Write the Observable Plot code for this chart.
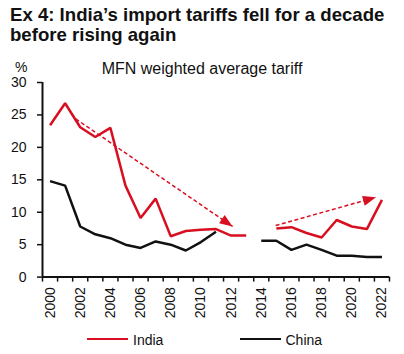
<!DOCTYPE html>
<html><head><meta charset="utf-8">
<script src="https://cdn.jsdelivr.net/npm/d3@7"></script>
<script src="https://cdn.jsdelivr.net/npm/@observablehq/plot@0.6"></script>
<style>
  html,body{margin:0;padding:0;background:#fff;}
  #wrap{position:relative;width:404px;height:354px;overflow:hidden;font-family:"Liberation Sans",Arial,sans-serif;}
  .abs{position:absolute;white-space:nowrap;}
  #chart{position:absolute;left:0;top:0;}
</style>
</head><body>
<div id="wrap">
  <div id="chart"></div>
  <div class="abs" style="left:10px;top:5px;font-weight:bold;font-size:18.6px;line-height:20px;color:#111;">Ex 4: India’s import tariffs fell for a decade<br>before rising again</div>
  <div class="abs" style="left:15px;top:60px;font-size:14px;line-height:14px;color:#111;">%</div>
  <div class="abs" style="left:0;width:404px;text-align:center;top:60.5px;font-size:16px;line-height:16px;color:#111;">MFN weighted average tariff</div>
  <div id="legend"></div>
</div>
<script>
const years = [2000,2001,2002,2003,2004,2005,2006,2007,2008,2009,2010,2011,2012,2013,2014,2015,2016,2017,2018,2019,2020,2021,2022];
const india = [23.4,26.8,23.1,21.6,23.0,14.1,9.1,12.1,6.3,7.1,7.3,7.4,6.4,6.4,null,7.5,7.7,6.8,6.1,8.8,7.8,7.4,11.9];
const china = [14.8,14.1,7.8,6.6,6.0,5.0,4.5,5.5,5.0,4.1,5.4,7.0,null,null,5.6,5.6,4.2,5.0,4.2,3.3,3.3,3.1,3.1];
const yTicks = [0,5,10,15,20,25,30];
const xLabelYears = [2000,2002,2004,2006,2008,2010,2012,2014,2016,2018,2020,2022];
const seriesNames = ["India","China"];
// trend arrows (annotation): start year/value -> end year/value
const arrowX1 = [2001.7, 2014.95];
const arrowY1 = [24.4, 7.95];
const arrowX2 = [2012.1, 2021.6];
const arrowY2 = [7.8, 12.3];

const RED = "#d80f21";
const BLACK = "#111";
const colors = [RED, BLACK];

const rows = [];
years.forEach((yr,i)=>{
  rows.push({year:yr, value:india[i], s:"India"});
  rows.push({year:yr, value:china[i], s:"China"});
});
const arrows = arrowX1.map((x,i)=>({x1:x,y1:arrowY1[i],x2:arrowX2[i],y2:arrowY2[i]}));
const boundaries = years.map(y=>y-0.5).concat([years[years.length-1]+0.5]);

const headSymbol = {
  draw(ctx){ const L=13, w=10; ctx.moveTo(0,0); ctx.lineTo(w/2,L); ctx.lineTo(-w/2,L); ctx.closePath(); }
};

function build(rot){
  return Plot.plot({
    width:404, height:354,
    marginTop:82, marginBottom:77.4, marginLeft:42, marginRight:15,
    style:{fontFamily:'"Liberation Sans",Arial,sans-serif', color:"#111", background:"transparent"},
    x:{type:"linear", domain:[years[0]-0.5, years[years.length-1]+0.5]},
    y:{domain:[0,30]},
    marks:[
      Plot.axisY({ticks:yTicks, tickSize:5, tickPadding:11, fontSize:14, label:null, strokeWidth:1.5}),
      Plot.axisX({ticks:boundaries, tickSize:5, tickFormat:()=>"", label:null, strokeWidth:1.5}),
      Plot.axisX({ticks:xLabelYears, tickSize:0, tickPadding:10, tickRotate:-90, fontSize:14, label:null, tickFormat:d=>String(d)}),
      Plot.line(rows, {x:"year", y:"value", z:"s", stroke:d=>d.s, strokeWidth:2.5, strokeLinejoin:"miter", strokeLinecap:"butt"}),
      Plot.link(arrows, {x1:"x1", y1:"y1", x2:"x2", y2:"y2", stroke:RED, strokeWidth:1.5, strokeDasharray:"4,2.5"}),
      Plot.dot(arrows, {x:"x2", y:"y2", symbol:headSymbol, fill:RED, stroke:"none", r:5, rotate:(d,i)=>rot ? rot[i] : 0}),
      Plot.ruleX([years[0]-0.5], {stroke:BLACK, strokeWidth:2}),
      Plot.ruleY([0], {stroke:BLACK, strokeWidth:2})
    ],
    color:{domain:seriesNames, range:colors}
  });
}

const p0 = build(null);
const sx = p0.scale("x"), sy = p0.scale("y");
const px = v => sx.range[0] + (v - sx.domain[0])/(sx.domain[1]-sx.domain[0])*(sx.range[1]-sx.range[0]);
const py = v => sy.range[0] + (v - sy.domain[0])/(sy.domain[1]-sy.domain[0])*(sy.range[1]-sy.range[0]);
const rot = arrows.map(a=>{
  const dx = px(a.x2)-px(a.x1), dy = py(a.y2)-py(a.y1);
  return Math.atan2(dy,dx)*180/Math.PI + 90;
});
document.getElementById("chart").append(build(rot));

// legend
const leg = document.getElementById("legend");
const legItems = [{x:87, tx:133}, {x:240, tx:285.5}];
seriesNames.forEach((n,i)=>{
  const line = document.createElement("div");
  line.className="abs";
  line.style.cssText=`left:${legItems[i].x}px;top:337.8px;width:41px;height:2.5px;background:${colors[i]};`;
  leg.append(line);
  const t = document.createElement("div");
  t.className="abs";
  t.style.cssText=`left:${legItems[i].tx}px;top:333px;font-size:14px;line-height:14px;color:#111;`;
  t.textContent=n;
  leg.append(t);
});
</script>
</body></html>
